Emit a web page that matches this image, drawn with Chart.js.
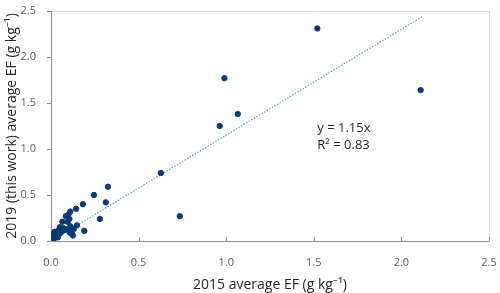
<!DOCTYPE html>
<html>
<head>
<meta charset="utf-8">
<script src="https://cdn.jsdelivr.net/npm/chart.js@4"></script>
<style>
  html, body { margin: 0; padding: 0; background: #fff; }
  #wrap { width: 500px; height: 293px; }
</style>
</head>
<body>
<div id="wrap"><canvas id="chart"></canvas></div>
<script>
// 2015 average EF vs 2019 (this work) average EF, g kg-1
const ef2015 = [
  0.00, 0.005, 0.01, 0.01, 0.02, 0.02, 0.03, 0.03, 0.04, 0.04,
  0.05, 0.05, 0.06, 0.065, 0.07, 0.07, 0.08, 0.085, 0.09, 0.095,
  0.10, 0.10, 0.105, 0.11, 0.11, 0.11, 0.12, 0.12, 0.125, 0.13,
  0.148, 0.143, 0.182, 0.19, 0.245, 0.279, 0.313, 0.325, 0.627, 0.735,
  0.963, 0.99, 1.066, 1.52, 2.11
];
const ef2019 = [
  0.00, 0.05, 0.02, 0.07, 0.03, 0.10, 0.05, 0.09, 0.04, 0.11,
  0.15, 0.08, 0.10, 0.21, 0.12, 0.14, 0.13, 0.27, 0.12, 0.21,
  0.29, 0.11, 0.24, 0.32, 0.16, 0.09, 0.14, 0.11, 0.06, 0.13,
  0.17, 0.35, 0.40, 0.11, 0.50, 0.24, 0.42, 0.59, 0.74, 0.27,
  1.25, 1.77, 1.38, 2.31, 1.64
];
// linear fit through origin, as printed on the chart
const trendX = [0, 2.12];
const trendY = [0, 2.44];
const fitLabels = ['y = 1.15x', 'R² = 0.83'];

const xTicks = [0, 0.5, 1.0, 1.5, 2.0, 2.5];
const yTicks = [0, 0.5, 1.0, 1.5, 2.0, 2.5];

const font = '"Open Sans", "Liberation Sans", sans-serif';

const framePlugin = {
  id: 'frame',
  beforeDatasetsDraw(chart) {
    const { ctx, chartArea: a, scales } = chart;
    ctx.save();
    ctx.lineWidth = 1;
    ctx.strokeStyle = '#d9d9d9';
    ctx.beginPath();
    ctx.moveTo(a.left, a.top + 0.5);
    ctx.lineTo(a.right + 0.5, a.top + 0.5);
    ctx.lineTo(a.right + 0.5, a.bottom);
    ctx.stroke();
    ctx.strokeStyle = '#8c8c8c';
    ctx.beginPath();
    ctx.moveTo(a.left + 0.5, a.top);
    ctx.lineTo(a.left + 0.5, a.bottom + 0.5);
    ctx.lineTo(a.right + 0.5, a.bottom + 0.5);
    ctx.stroke();
    ctx.beginPath();
    xTicks.forEach(v => {
      const px = Math.round(scales.x.getPixelForValue(v)) + 0.5;
      ctx.moveTo(px, a.bottom);
      ctx.lineTo(px, a.bottom - 4);
    });
    yTicks.forEach(v => {
      const py = Math.round(scales.y.getPixelForValue(v)) + 0.5;
      ctx.moveTo(a.left, py);
      ctx.lineTo(a.left - 4, py);
    });
    ctx.stroke();
    ctx.restore();
  },
  afterDraw(chart) {
    const { ctx, scales } = chart;
    ctx.save();
    ctx.fillStyle = '#262626';
    ctx.font = '13px ' + font;
    ctx.textBaseline = 'middle';
    const x0 = scales.x.getPixelForValue(1.52);
    ctx.fillText(fitLabels[0], x0, scales.y.getPixelForValue(1.22));
    ctx.fillText(fitLabels[1], x0, scales.y.getPixelForValue(1.04));
    ctx.restore();
  }
};

new Chart(document.getElementById('chart'), {
  type: 'scatter',
  data: {
    datasets: [
      {
        label: 'EF',
        data: ef2015.map((x, i) => ({ x: x, y: ef2019[i] })),
        backgroundColor: '#0c3a76',
        borderColor: '#0c3a76',
        pointRadius: 2.7,
        pointHoverRadius: 3
      },
      {
        label: 'Linear fit',
        type: 'line',
        data: trendX.map((x, i) => ({ x: x, y: trendY[i] })),
        borderColor: '#5b9bd5',
        borderWidth: 1.2,
        borderDash: [1.5, 1.5],
        pointRadius: 0,
        fill: false
      }
    ]
  },
  options: {
    responsive: true,
    maintainAspectRatio: false,
    animation: false,
    layout: { padding: { top: 11, right: 11, left: 0, bottom: 0 } },
    plugins: {
      legend: { display: false },
      tooltip: { enabled: false }
    },
    scales: {
      x: {
        type: 'linear',
        min: 0,
        max: 2.5,
        afterBuildTicks: axis => { axis.ticks = xTicks.map(v => ({ value: v })); },
        afterFit: axis => {
          axis.height = 52;
          axis.paddingLeft = 0;
          axis.paddingRight = 0;
        },
        grid: { display: false },
        border: { display: false },
        ticks: {
          padding: 7,
          color: '#595959',
          font: { family: font, size: 11 },
          callback: v => v.toFixed(1)
        },
        title: {
          display: true,
          text: '2015 average EF (g kg⁻¹)',
          color: '#262626',
          font: { family: font, size: 14 },
          padding: { top: 4, bottom: 0 }
        }
      },
      y: {
        type: 'linear',
        min: 0,
        max: 2.5,
        afterBuildTicks: axis => { axis.ticks = yTicks.map(v => ({ value: v })); },
        afterFit: axis => {
          axis.width = 51;
          axis.paddingTop = 0;
          axis.paddingBottom = 0;
        },
        grid: { display: false },
        border: { display: false },
        ticks: {
          padding: 7,
          color: '#595959',
          font: { family: font, size: 11 },
          callback: v => v.toFixed(1)
        },
        title: {
          display: true,
          text: '2019 (this work) average EF (g kg⁻¹)',
          color: '#262626',
          font: { family: font, size: 14 },
          padding: { top: 4, bottom: 0 }
        }
      }
    }
  },
  plugins: [framePlugin]
});
</script>
</body>
</html>
